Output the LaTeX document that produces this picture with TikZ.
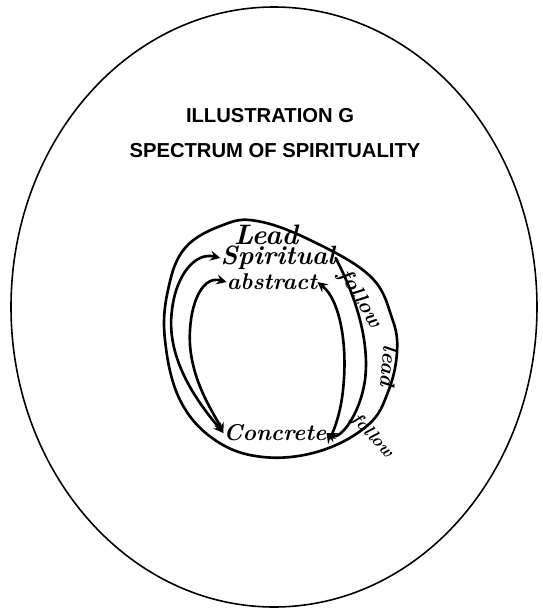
\documentclass[tikz,border=0pt]{standalone}
\usepackage{fontspec}
\setmainfont{Liberation Sans}
\newfontfamily\handfont{Latin Modern Roman}
\tikzset{
    ring/.style={line width=1.5pt, line cap=round, line join=round},
    hand/.style={inner sep=0pt},
    title/.style={font=\bfseries\fontsize{11.5}{13}\selectfont}
}
\newcommand{\hw}[1]{\handfont\bfseries\itshape\fontsize{#1}{#1}\selectfont}
\begin{document}
\begin{tikzpicture}[x=0.02cm, y=-0.02cm, >=stealth]
    \useasboundingbox (0,0) rectangle (542,609);
    \draw[line width=0.9pt] (274,307) ellipse [x radius=263, y radius=300];
    \node[title] (t1) at (270,116) {ILLUSTRATION G};
    \node[title] (t2) at (275,151) {SPECTRUM OF SPIRITUALITY};

    % outer ring
    \draw[ring] plot[smooth cycle, tension=0.65] coordinates {
        (223,225) (257,221) (310,240) (370,276) (392,318) (397,352)
        (388,392) (368,425) (320,451) (263,457) (215,440) (180,400)
        (165,340) (168,290) (185,248)};

    % words on the rings
    \node[hand, font=\hw{16}] (lead) at (266,235) {Lead};
    \node[hand, font=\hw{15}] (spirit) at (278,258) {Spiritual};
    \node[hand, font=\hw{13}] (abstr) at (272,282) {abstract};
    \node[hand, font=\hw{13}] (concr) at (275,433) {Concrete};
    \node[hand, font=\hw{12}, rotate=-58] (follow1) at (360,299) {follow};
    \node[hand, font=\hw{12}, rotate=-95] (lead2) at (389,366) {lead};
    \node[hand, font=\hw{10}, rotate=-48] (follow2) at (372,436) {follow};

    % left side
    \draw[ring, <->] (concr.west) .. controls (200,405) and (165,360) .. (172,310)
        .. controls (176,275) and (195,252) .. (spirit.west);
    \draw[ring, <->] (abstr.west) .. controls (200,275) and (188,310) .. (190,345)
        .. controls (193,385) and (215,415) .. (concr.west);
    % right side
    \draw[ring, ->] (spirit.east) .. controls (355,295) and (370,340) .. (365,380)
        .. controls (360,415) and (340,440) .. (concr.east);
    \draw[ring, <->] (abstr.east) .. controls (340,300) and (348,345) .. (343,390)
        .. controls (340,420) and (330,438) .. (concr.east);
\end{tikzpicture}
\end{document}
